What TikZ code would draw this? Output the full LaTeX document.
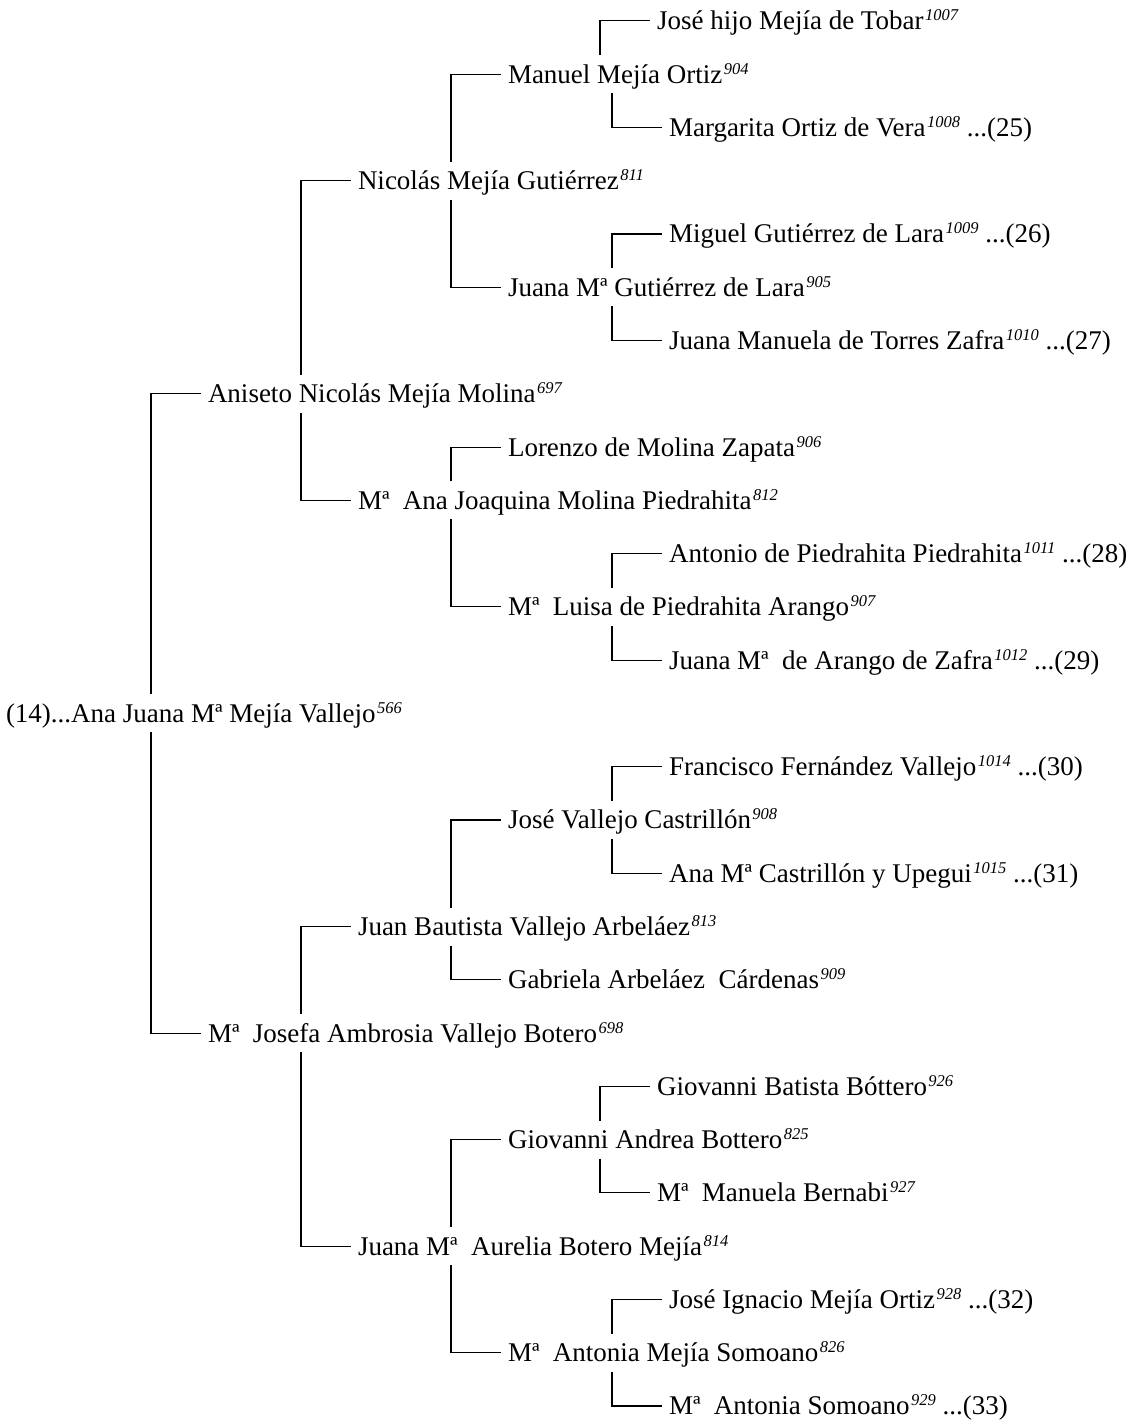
\documentclass[tikz,border=0pt]{standalone}
\usepackage{fontspec}
\setmainfont{Liberation Serif}
\newcommand\gnum[1]{\kern1.5pt\raisebox{9pt}{\fontsize{16.5}{16.5}\selectfont\itshape #1}}
\tikzset{
  person/.style={anchor=west, inner sep=0pt, outer sep=0pt, text height=27.9pt, text depth=10.1pt, font=\fontsize{27}{32}\selectfont},
  link/.style={line width=1.1pt, line cap=butt}
}
\begin{document}
\begin{tikzpicture}[x=1pt,y=-1pt]
\useasboundingbox (0,0) rectangle (1132,1423);
\coordinate (c1) at (151,0);
\coordinate (c2) at (301,0);
\coordinate (c3) at (451,0);
\coordinate (c4) at (600,0);
\coordinate (c4b) at (612,0);
% level 0
\node[person] (root) at (6,713.4) {(14)...Ana Juana Mª Mejía Vallejo\gnum{566}};
% level 1
\node[person] (anis) at (208,393.8) {Aniseto Nicolás Mejía Molina\gnum{697}};
\node[person] (josefa) at (208,1033.1) {Mª\ \ Josefa Ambrosia Vallejo Botero\gnum{698}};
% level 2
\node[person] (nic) at (358,180.7) {Nicolás Mejía Gutiérrez\gnum{811}};
\node[person] (anajoa) at (358,500.4) {Mª\ \ Ana Joaquina Molina Piedrahita\gnum{812}};
\node[person] (juanb) at (358,926.5) {Juan Bautista Vallejo Arbeláez\gnum{813}};
\node[person] (aurelia) at (358,1246.2) {Juana Mª\ \ Aurelia Botero Mejía\gnum{814}};
% level 3
\node[person] (manuel) at (508,74.2) {Manuel Mejía Ortiz\gnum{904}};
\node[person] (jgut) at (508,287.3) {Juana Mª Gutiérrez de Lara\gnum{905}};
\node[person] (lorenzo) at (508,447.1) {Lorenzo de Molina Zapata\gnum{906}};
\node[person] (luisa) at (508,606.9) {Mª\ \ Luisa de Piedrahita Arango\gnum{907}};
\node[person] (josev) at (508,820.0) {José Vallejo Castrillón\gnum{908}};
\node[person] (gabriela) at (508,979.8) {Gabriela Arbeláez\ \ Cárdenas\gnum{909}};
\node[person] (giand) at (508,1139.6) {Giovanni Andrea Bottero\gnum{825}};
\node[person] (antm) at (508,1352.7) {Mª\ \ Antonia Mejía Somoano\gnum{826}};
% level 4
\node[person] (joseh) at (657,20.9) {José hijo Mejía de Tobar\gnum{1007}};
\node[person] (marg) at (669,127.4) {Margarita Ortiz de Vera\gnum{1008} ...(25)};
\node[person] (miguel) at (669,234.0) {Miguel Gutiérrez de Lara\gnum{1009} ...(26)};
\node[person] (jman) at (669,340.5) {Juana Manuela de Torres Zafra\gnum{1010} ...(27)};
\node[person] (antonio) at (669,553.6) {Antonio de Piedrahita Piedrahita\gnum{1011} ...(28)};
\node[person] (arango) at (669,660.2) {Juana Mª\ \ de Arango de Zafra\gnum{1012} ...(29)};
\node[person] (francisco) at (669,766.7) {Francisco Fernández Vallejo\gnum{1014} ...(30)};
\node[person] (anac) at (669,873.3) {Ana Mª Castrillón y Upegui\gnum{1015} ...(31)};
\node[person] (gbat) at (657,1086.4) {Giovanni Batista Bóttero\gnum{926}};
\node[person] (mman) at (657,1192.9) {Mª\ \ Manuela Bernabi\gnum{927}};
\node[person] (jign) at (669,1299.5) {José Ignacio Mejía Ortiz\gnum{928} ...(32)};
\node[person] (soma) at (669,1406.0) {Mª\ \ Antonia Somoano\gnum{929} ...(33)};
% connectors
\draw[link] (root.north -| c1) |- ([xshift=-7pt]anis.west);
\draw[link] (root.south -| c1) |- ([xshift=-7pt]josefa.west);
\draw[link] (anis.north -| c2) |- ([xshift=-7pt]nic.west);
\draw[link] (anis.south -| c2) |- ([xshift=-7pt]anajoa.west);
\draw[link] (josefa.north -| c2) |- ([xshift=-7pt]juanb.west);
\draw[link] (josefa.south -| c2) |- ([xshift=-7pt]aurelia.west);
\draw[link] (nic.north -| c3) |- ([xshift=-7pt]manuel.west);
\draw[link] (nic.south -| c3) |- ([xshift=-7pt]jgut.west);
\draw[link] (anajoa.north -| c3) |- ([xshift=-7pt]lorenzo.west);
\draw[link] (anajoa.south -| c3) |- ([xshift=-7pt]luisa.west);
\draw[link] (juanb.north -| c3) |- ([xshift=-7pt]josev.west);
\draw[link] (juanb.south -| c3) |- ([xshift=-7pt]gabriela.west);
\draw[link] (aurelia.north -| c3) |- ([xshift=-7pt]giand.west);
\draw[link] (aurelia.south -| c3) |- ([xshift=-7pt]antm.west);
\draw[link] (manuel.north -| c4) |- ([xshift=-7pt]joseh.west);
\draw[link] (manuel.south -| c4b) |- ([xshift=-7pt]marg.west);
\draw[link] (jgut.north -| c4b) |- ([xshift=-7pt]miguel.west);
\draw[link] (jgut.south -| c4b) |- ([xshift=-7pt]jman.west);
\draw[link] (luisa.north -| c4b) |- ([xshift=-7pt]antonio.west);
\draw[link] (luisa.south -| c4b) |- ([xshift=-7pt]arango.west);
\draw[link] (josev.north -| c4b) |- ([xshift=-7pt]francisco.west);
\draw[link] (josev.south -| c4b) |- ([xshift=-7pt]anac.west);
\draw[link] (giand.north -| c4) |- ([xshift=-7pt]gbat.west);
\draw[link] (giand.south -| c4) |- ([xshift=-7pt]mman.west);
\draw[link] (antm.north -| c4b) |- ([xshift=-7pt]jign.west);
\draw[link] (antm.south -| c4b) |- ([xshift=-7pt]soma.west);
\end{tikzpicture}
\end{document}
